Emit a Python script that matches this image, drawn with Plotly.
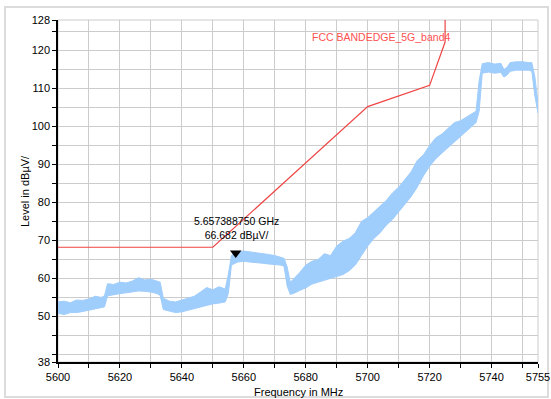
import plotly.graph_objects as go

# Measured trace envelope (MHz, dBµV)
freq = [5600, 5602, 5604, 5606, 5608, 5610, 5612, 5614, 5615, 5616, 5618, 5620, 5622, 5624, 5626,
        5628, 5630, 5632, 5633, 5634, 5636, 5638, 5640, 5642, 5644, 5646, 5648, 5650, 5652, 5654,
        5655, 5656, 5658, 5660, 5662, 5664, 5666, 5668, 5670, 5672, 5673, 5674, 5675, 5676, 5678,
        5680, 5682, 5684, 5686, 5688, 5690, 5692, 5694, 5696, 5698, 5700, 5702, 5704, 5706, 5708,
        5710, 5712, 5714, 5716, 5718, 5720, 5722, 5724, 5726, 5728, 5730, 5732, 5734, 5735, 5736,
        5737, 5739, 5741, 5743, 5744, 5745, 5746, 5748, 5750, 5752, 5753, 5754, 5755]
level_low = [50.8, 50.5, 51.0, 51.0, 51.3, 51.6, 52.0, 52.2, 52.5, 55.4, 55.8, 56.0, 56.2, 56.5, 56.7,
             56.6, 56.4, 56.0, 55.5, 51.8, 51.3, 51.0, 51.2, 51.6, 52.0, 52.5, 53.0, 53.3, 53.5, 53.8,
             56.0, 63.5, 64.3, 64.5, 64.3, 64.2, 64.0, 63.8, 63.6, 63.5, 63.2, 58.0, 55.8, 56.0, 56.8,
             57.5, 58.5, 59.0, 59.4, 59.8, 60.3, 61.0, 62.0, 63.5, 66.0, 68.5, 70.5, 72.0, 74.0, 75.5,
             77.5, 79.5, 81.5, 84.0, 87.0, 89.5, 91.5, 93.0, 94.5, 96.0, 97.5, 99.0, 100.5, 101.0, 104.0,
             114.0, 114.3, 114.0, 114.2, 113.0, 113.5, 114.5, 114.8, 114.8, 114.8, 114.5, 108.0, 103.5]
level_high = [53.8, 54.0, 53.6, 54.3, 54.2, 54.6, 55.3, 55.0, 55.4, 58.6, 58.4, 59.0, 58.8, 59.3, 60.2,
              59.6, 59.8, 59.4, 59.0, 54.8, 54.0, 53.8, 54.3, 54.6, 55.3, 56.4, 57.6, 57.0, 57.8, 57.2,
              61.0, 66.0, 67.0, 67.2, 67.0, 66.8, 66.5, 66.3, 66.0, 65.6, 65.3, 63.0, 59.0, 59.8, 61.5,
              63.5, 64.5, 65.0, 66.5, 66.0, 68.5, 69.8, 70.5, 72.0, 75.0, 76.0, 77.5, 79.0, 80.5, 82.5,
              84.0, 86.0, 88.0, 91.0, 92.5, 95.0, 97.0, 98.0, 99.5, 101.0, 101.5, 102.5, 103.5, 104.0, 112.0,
              116.5, 116.8, 116.4, 116.6, 115.0, 115.5, 116.8, 117.0, 117.0, 116.8, 116.8, 113.0, 106.0]

# Limit line (FCC bandedge)
limit_freq = [5600, 5650, 5700, 5720, 5725, 5725]
limit_level = [68.2, 68.2, 105.2, 110.8, 122.2, 130]
limit_name = "FCC BANDEDGE_5G_band4"

# Marker
marker_freq = 5657.38875
marker_level = 66.682
marker_text = "5.657388750 GHz<br>66.682 dBµV/"

# Axes
x_tickvals = list(range(5600, 5751, 10)) + [5755]
x_ticktext = [str(v) if (v - 5600) % 20 == 0 else "" for v in range(5600, 5751, 10)] + ["5755"]
y_tickvals = [38] + list(range(40, 126, 5)) + [128]
y_ticktext = ["38"] + [str(v) if (v % 10 == 0 and v >= 50) else "" for v in range(40, 126, 5)] + ["128"]

FONT = "Liberation Sans, Arial, sans-serif"
trace_color = "#9fcdfc"

fig = go.Figure()
fig.add_trace(go.Scatter(x=freq, y=level_low, mode="lines",
                         line=dict(color=trace_color, width=1), hoverinfo="skip", showlegend=False))
fig.add_trace(go.Scatter(x=freq, y=level_high, mode="lines", fill="tonexty",
                         fillcolor=trace_color, line=dict(color=trace_color, width=1),
                         showlegend=False))
fig.add_trace(go.Scatter(x=limit_freq, y=limit_level, mode="lines",
                         line=dict(color="#ee4444", width=1.2), showlegend=False))

fig.add_trace(go.Scatter(x=[marker_freq], y=[marker_level], mode="markers",
                         marker=dict(symbol="triangle-down", size=10, color="black",
                                     line=dict(width=0)), showlegend=False))
fig.add_annotation(x=marker_freq, y=marker_level, text=marker_text, showarrow=False,
                   yanchor="bottom", xanchor="center", xshift=1, yshift=10,
                   font=dict(family=FONT, size=10.5, color="black"))
fig.add_annotation(x=5725, y=128, text=limit_name, showarrow=False,
                   xanchor="right", yanchor="top", xshift=7, yshift=-9,
                   font=dict(family=FONT, size=10.5, color="#ff5050"))

# Axis titles
fig.add_annotation(xref="paper", yref="paper", x=0.5, y=0, yshift=-30,
                   text="Frequency in MHz", showarrow=False, yanchor="middle",
                   font=dict(family=FONT, size=11, color="black"))
fig.add_annotation(xref="paper", yref="paper", x=0, xshift=-33, y=0.5,
                   text="Level in dBµV/", showarrow=False, textangle=-90, xanchor="center",
                   font=dict(family=FONT, size=11, color="black"))

# Plot area outline and outer border
fig.add_shape(type="rect", xref="paper", yref="paper", x0=0, x1=1, y0=0, y1=1,
              line=dict(color="#cccccc", width=1), layer="below")
fig.add_shape(type="rect", xref="paper", yref="paper",
              x0=-53 / 480, x1=490 / 480, y0=-35 / 342, y1=1 + 13 / 342,
              line=dict(color="#dcdcdc", width=2), layer="below")

fig.update_xaxes(range=[5600, 5755], tickmode="array", tickvals=x_tickvals, ticktext=x_ticktext,
                 showgrid=True, gridcolor="#cccccc", gridwidth=1, zeroline=False,
                 showline=True, linecolor="black", linewidth=1.5,
                 ticks="outside", ticklen=4, tickcolor="black",
                 tickfont=dict(family=FONT, size=11, color="black"))
fig.update_yaxes(range=[38, 128], tickmode="array", tickvals=y_tickvals, ticktext=y_ticktext,
                 showgrid=True, gridcolor="#cccccc", gridwidth=1, zeroline=False,
                 showline=True, linecolor="black", linewidth=1.5,
                 ticks="outside", ticklen=4, tickcolor="black",
                 tickfont=dict(family=FONT, size=11, color="black"))

fig.update_layout(width=562, height=399, autosize=False,
                  margin=dict(l=58, r=24, t=20, b=37),
                  plot_bgcolor="white", paper_bgcolor="white", showlegend=False)

fig.write_html("out.html", config={"responsive": False})

with open("out.html", "r", encoding="utf-8") as fh:
    html = fh.read()
html = html.replace("<head>", "<head><style>html,body{margin:0;padding:0;overflow:hidden;}</style>", 1)
with open("out.html", "w", encoding="utf-8") as fh:
    fh.write(html)
